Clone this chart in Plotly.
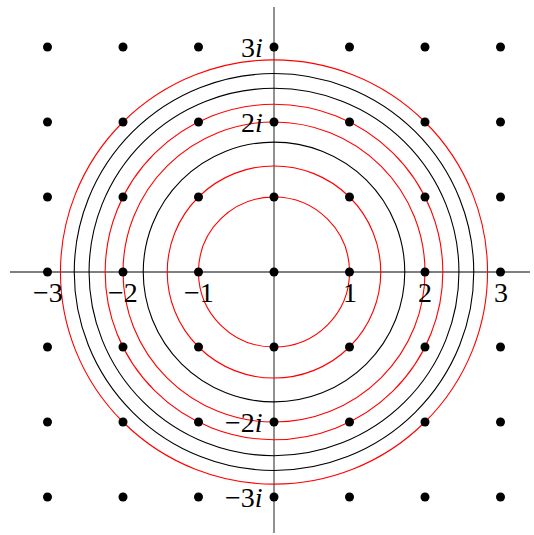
import plotly.graph_objects as go

# lattice of Gaussian integers
lattice_re = [-3, -2, -1, 0, 1, 2, 3]
lattice_im = [-3, -2, -1, 0, 1, 2, 3]

# circles |z|^2 = n
circle_norms = [1, 2, 3, 4, 5, 6, 7, 8]
circle_is_sum_of_squares = [True, True, False, True, True, False, False, True]

real_tick_vals = [-3, -2, -1, 1, 2, 3]
real_tick_text = ["−3", "−2", "−1", "1", "2", "3"]
imag_tick_vals = [3, 2, -2, -3]
imag_tick_text = ["3<i>i</i>", "2<i>i</i>", "−2<i>i</i>", "−3<i>i</i>"]

fig = go.Figure()

shapes = []
# axes
shapes.append(dict(type="line", x0=-3.497, x1=3.39, y0=0, y1=0,
                   line=dict(color="#555555", width=1.3), layer="below"))
shapes.append(dict(type="line", x0=0, x1=0, y0=-3.48, y1=3.533,
                   line=dict(color="#555555", width=1.3), layer="below"))
for n, red in zip(circle_norms, circle_is_sum_of_squares):
    r = n ** 0.5
    shapes.append(dict(type="circle", x0=-r, x1=r, y0=-r, y1=r,
                       line=dict(color="red" if red else "black", width=1.1),
                       layer="below"))

xs, ys = [], []
for a in lattice_re:
    for b in lattice_im:
        xs.append(a)
        ys.append(b)
fig.add_trace(go.Scatter(x=xs, y=ys, mode="markers",
                         marker=dict(color="black", size=9), hoverinfo="skip"))

font = dict(family="Liberation Serif, DejaVu Serif, serif", size=28, color="black")
annotations = []
for v, t in zip(real_tick_vals, real_tick_text):
    annotations.append(dict(x=v, y=0, text=t, showarrow=False, xanchor="center",
                            yanchor="middle", yshift=-20, font=font))
for v, t in zip(imag_tick_vals, imag_tick_text):
    annotations.append(dict(x=0, y=v, text=t, showarrow=False, xanchor="right",
                            yanchor="middle", xshift=-9, font=font))

fig.update_layout(
    width=534, height=535,
    margin=dict(l=0, r=0, t=0, b=0),
    paper_bgcolor="white", plot_bgcolor="white",
    showlegend=False,
    shapes=shapes, annotations=annotations,
    xaxis=dict(range=[-274 / 75.5, 260 / 75.5], visible=False, fixedrange=True),
    yaxis=dict(range=[-263 / 75.0, 272 / 75.0], visible=False, fixedrange=True),
)

fig.write_html("out.html", config={"displayModeBar": False},
               post_script="document.body.style.margin='0';document.body.style.overflow='hidden';")
